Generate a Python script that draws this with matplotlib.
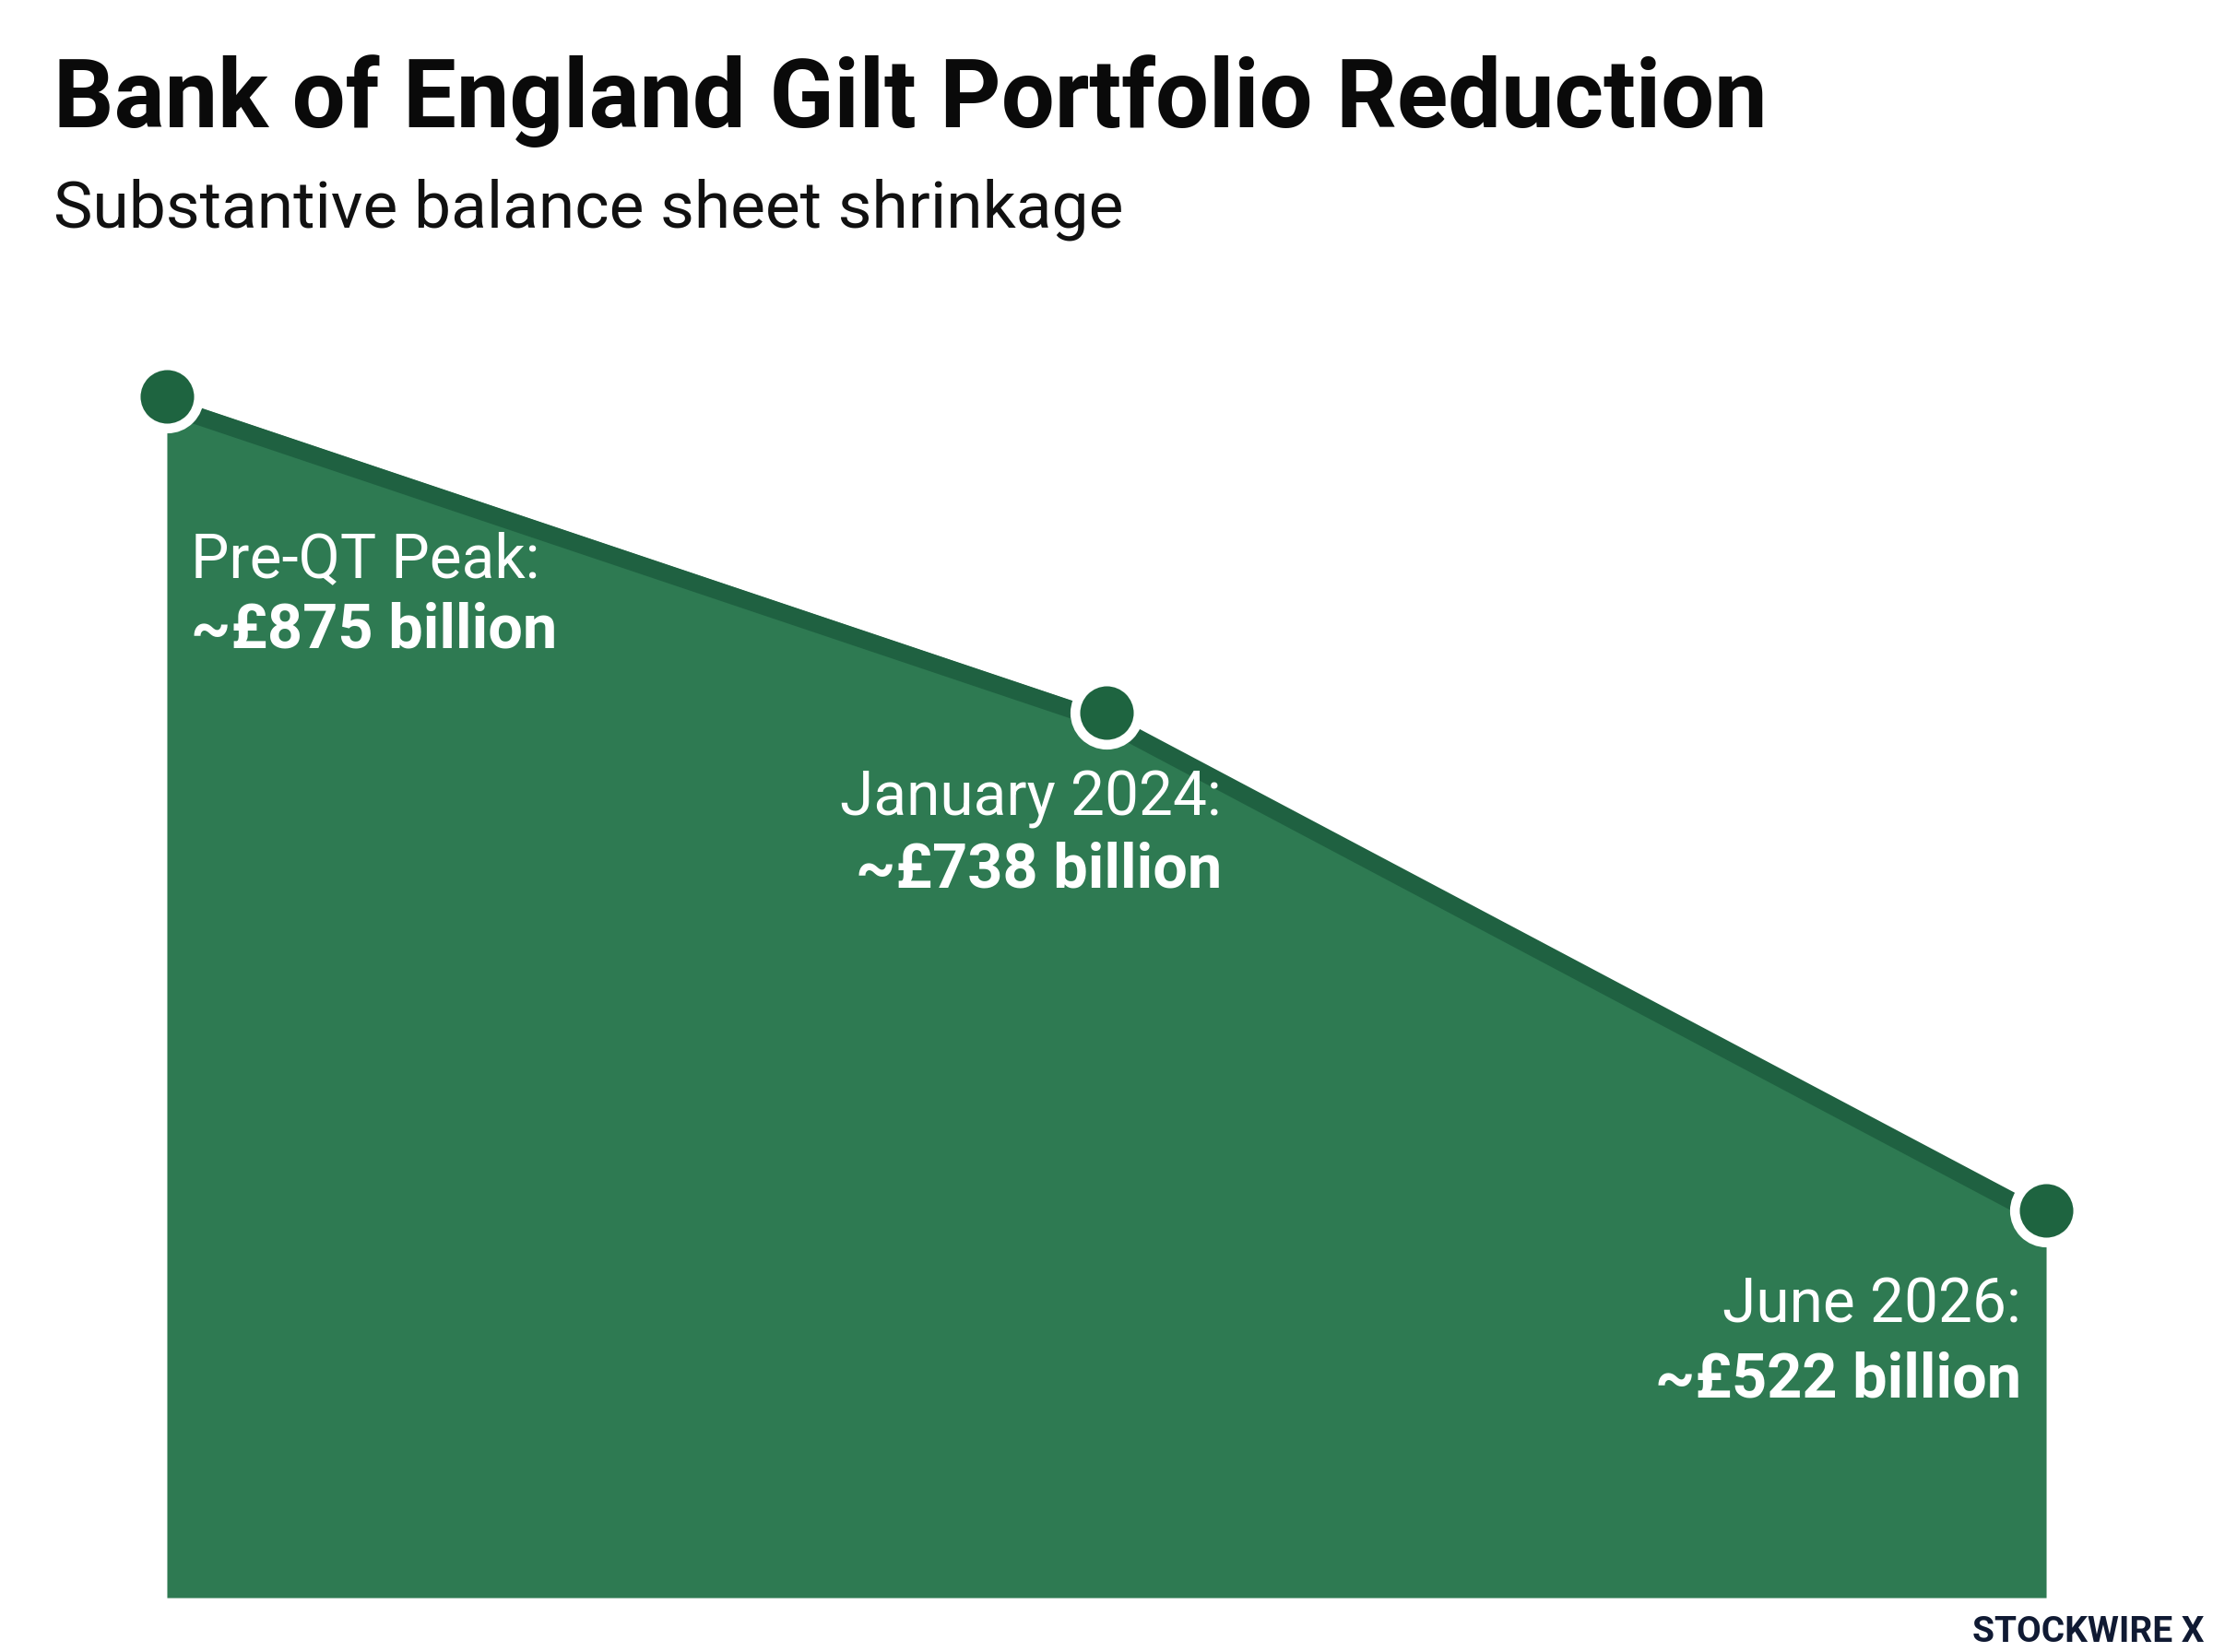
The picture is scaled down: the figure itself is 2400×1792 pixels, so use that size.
import matplotlib
matplotlib.use("Agg")
import matplotlib.pyplot as plt
import matplotlib.transforms as mtransforms

plt.rcParams['font.family'] = ['Roboto', 'DejaVu Sans']

# Data
stages = ['Pre-QT Peak', 'January 2024', 'June 2026']
holdings = [875, 738, 522]  # £ billion
value_labels = ['~£875 billion', '~£738 billion', '~£522 billion']
x = [0, 1, 2]

fill_color = '#2e7a52'
line_color = '#1f6141'
dot_color = '#1e6440'

fig = plt.figure(figsize=(12, 8.96), dpi=200)
ax = fig.add_axes([0.0754, 0.0329, 0.8492, 0.8276])

y_floor = 353.8
ax.set_xlim(0, 2)
ax.set_ylim(y_floor, 947.0)

ax.fill_between(x, holdings, y_floor, color=fill_color, lw=0, zorder=1)

# dark band just inside the top edge of the area
band = mtransforms.offset_copy(ax.transData, fig=fig, y=-3.6, units='points')
ax.plot(x, holdings, color=line_color, lw=6.8, solid_capstyle='butt',
        transform=band, zorder=2)

ax.plot(x, holdings, 'o', ms=24.7, mfc=dot_color, mec='white', mew=3.8,
        zorder=4, clip_on=False)

# labels: (dx, dy of first line, dy of second line) in points, alignment
label_pos = [(9.4, -64, -91.5, 'left'),
             (45, -34, -62, 'right'),
             (-9.7, -37.5, -66.5, 'right')]
for xi, yi, name, val, (dx, dy1, dy2, ha) in zip(x, holdings, stages, value_labels, label_pos):
    ax.annotate(name + ':', (xi, yi), xytext=(dx, dy1), textcoords='offset points',
                ha=ha, va='center', color='white', fontsize=23.7, zorder=5)
    ax.annotate(val, (xi, yi), xytext=(dx, dy2), textcoords='offset points',
                ha=ha, va='center', color='white', fontsize=24, fontweight='bold', zorder=5)

ax.axis('off')

fig.text(0.0242, 0.939, 'Bank of England Gilt Portfolio Reduction', fontsize=37,
         fontweight='bold', color='#0a0a0a', ha='left', va='center')
fig.text(0.0242, 0.873, 'Substantive balance sheet shrinkage', fontsize=25.7,
         color='#111111', ha='left', va='center')

fig.text(0.996, 0.012, 'STOCKWIRE X', fontsize=14, fontweight='bold',
         color='#101a33', ha='right', va='center')

fig.savefig('out.png', dpi=200, facecolor='white')
